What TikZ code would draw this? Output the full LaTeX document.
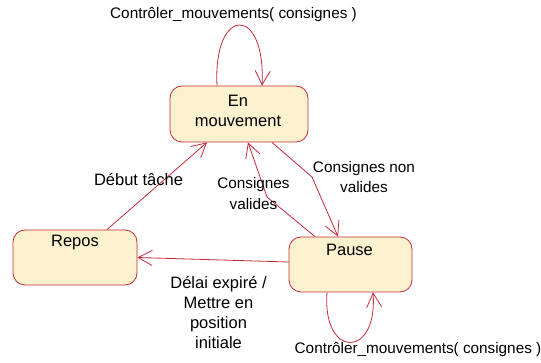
\documentclass[tikz,border=0pt]{standalone}
\usepackage{fontspec}
\setmainfont{Liberation Sans}
\usepackage{xcolor}
\usepackage{tikz}
\usetikzlibrary{arrows.meta, positioning, calc}

\definecolor{stfill}{RGB}{250,241,206}
\definecolor{stline}{RGB}{198,42,58}

\begin{document}
\begin{tikzpicture}[
		x=1pt, y=-1pt,
		st/.style={draw=stline, fill=stfill, line width=0.8pt, rounded corners=12pt, inner sep=0pt},
		lbl/.style={font=\fontsize{16.5}{20.3}\selectfont, align=center, inner sep=0pt},
		lbls/.style={lbl, font=\fontsize{15.3}{20.3}\selectfont},
		tr/.style={draw=stline, line width=0.8pt, -{Straight Barb[length=14pt, width=15pt]}}
	]
		\useasboundingbox (0,0) rectangle (541,363);

		% States
		\node[st, minimum width=138pt, minimum height=56pt] (enmvt) at (239,114) {};
		\node[lbl] (enmvtt) at (238,111) {En\\mouvement};
		\node[st, minimum width=124pt, minimum height=55pt] (repos) at (75,257.5) {};
		\node[lbl] (repost) at (75,243) {Repos};
		\node[st, minimum width=123pt, minimum height=55pt] (pause) at (350.5,264.5) {};
		\node[lbl] (pauset) at (349.5,250) {Pause};

		% Bends
		\coordinate (bv) at (267,197);
		\coordinate (bnv) at (312,177);

		% Transitions
		\draw[tr] ([xshift=-22pt]enmvt.north) .. controls (213,5) and (266,5) .. ([xshift=23pt]enmvt.north);
		\node[lbls] (lctrl1) at (233.5,15) {Contrôler\_mouvements( consignes )};

		\draw[tr] ([xshift=32pt]repos.north) -- ([xshift=-32pt]enmvt.south);
		\node[lbl] (ldebut) at (138.5,180) {Début tâche};

		\draw[tr] ([xshift=-35.5pt]pause.north) -- (bv) -- ([xshift=9pt]enmvt.south);
		\node[lbls] (lval) at (253.5,193.5) {Consignes\\valides};

		\draw[tr] ([xshift=33pt]enmvt.south) -- (bnv) -- ([xshift=-12.5pt]pause.north);
		\node[lbls] (lnval) at (364,177) {Consignes non\\valides};

		\draw[tr] ([yshift=2.5pt]pause.west) -- (repos.east);
		\node[lbl] (ldelai) at (218.5,312.5) {Délai expiré /\\Mettre en\\position\\initiale};

		\draw[tr] ([xshift=-23.5pt]pause.south) .. controls (322,359) and (378,359) .. ([xshift=22.5pt]pause.south);
		\node[lbls] (lctrl2) at (418,350) {Contrôler\_mouvements( consignes )};
	\end{tikzpicture}
\end{document}
